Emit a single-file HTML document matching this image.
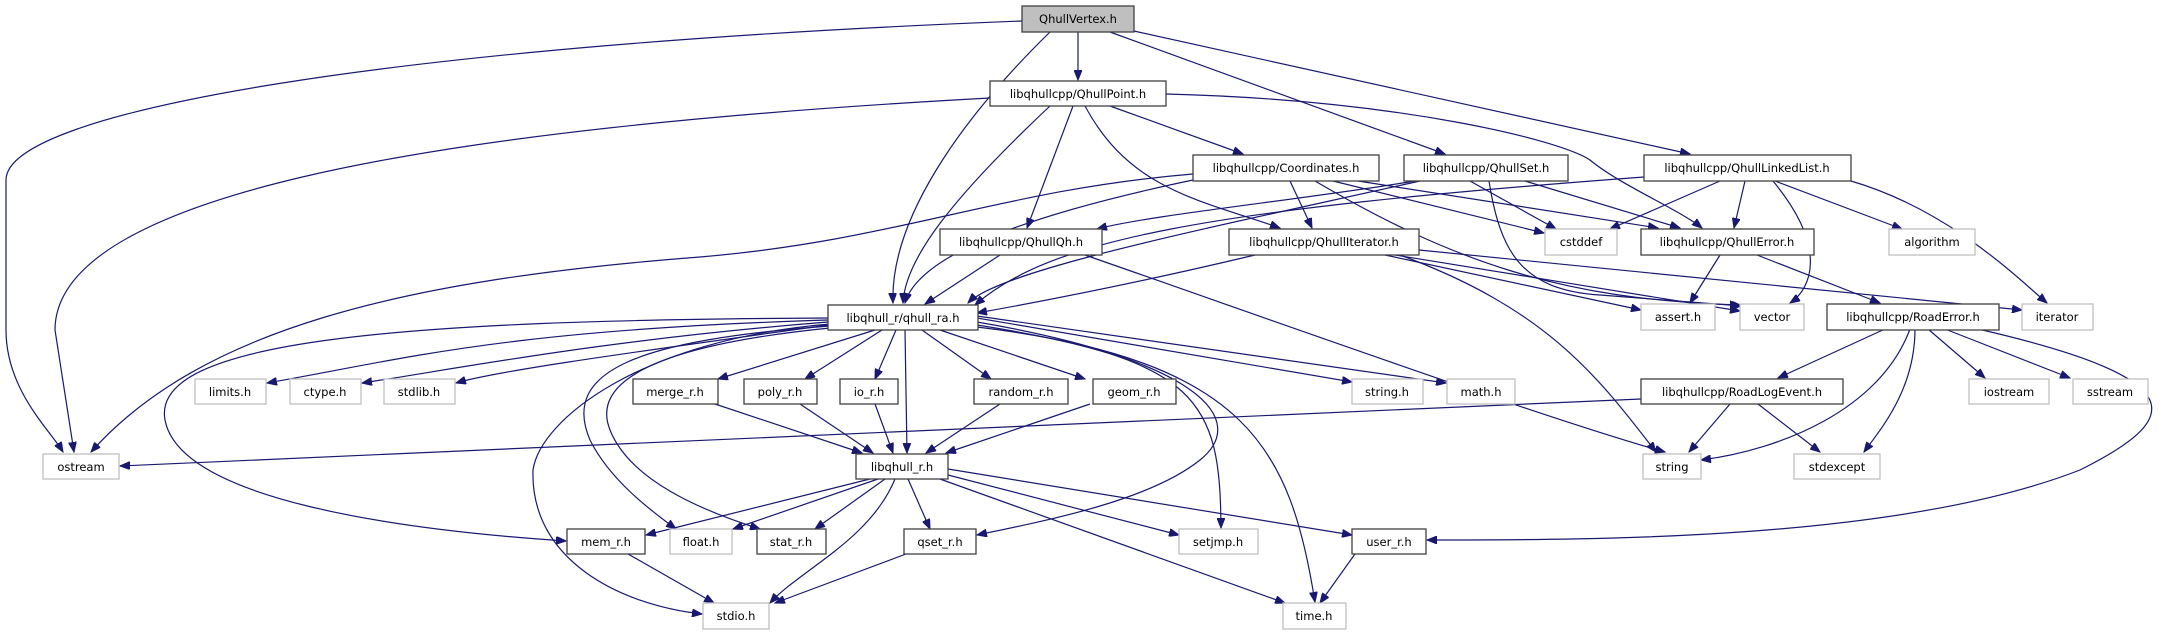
<!DOCTYPE html>
<html><head><meta charset="utf-8"><style>
html,body{margin:0;padding:0;background:#fff;}
svg{display:block;}
text{font-family:"DejaVu Sans","Liberation Sans",sans-serif;font-size:11.5px;fill:#000;text-anchor:middle;}
.n{fill:#fff;stroke:#404040;stroke-width:1.3;}
.g{fill:#fff;stroke:#bfbfbf;stroke-width:1.3;}
.e{fill:none;stroke:#191970;stroke-width:1.2;}
</style></head><body>
<svg width="2171" height="635" viewBox="0 0 2171 635" xmlns="http://www.w3.org/2000/svg">
<defs><marker id="a" markerWidth="11" markerHeight="8" refX="10" refY="4" orient="auto" markerUnits="userSpaceOnUse"><path d="M0,0 L10,4 L0,8 z" fill="#191970" stroke="#191970"/></marker></defs>
<g class="e" marker-end="url(#a)">
<path d="M1022,21 C400,45 6,110 6,180 L6,330 C6,390 50,430 63,452"/>
<path d="M1050,32 C960,120 890,220 893,303"/>
<path d="M1078,32 L1078,80"/>
<path d="M1110,32 L1445,154"/>
<path d="M1134,31 L1690,154"/>
<path d="M990,98 C400,130 55,200 55,330 L74,452"/>
<path d="M1050,106 C950,200 905,260 903,303"/>
<path d="M1073,106 L1027,228"/>
<path d="M1085,106 C1130,190 1200,200 1280,228"/>
<path d="M1110,106 L1243,154"/>
<path d="M1166,94 C1400,100 1560,140 1590,160 C1620,185 1680,210 1702,228"/>
<path d="M1193,174 C1000,190 900,240 700,257 C400,280 200,330 91,452"/>
<path d="M1193,180 C1050,210 920,250 905,303"/>
<path d="M1290,181 L1312,228"/>
<path d="M1333,181 L1544,233"/>
<path d="M1358,181 L1658,228"/>
<path d="M1315,181 C1450,260 1560,300 1740,305"/>
<path d="M1415,181 C1300,200 1150,215 1097,229"/>
<path d="M1420,181 C1200,230 1000,270 968,303"/>
<path d="M1470,181 L1556,229"/>
<path d="M1525,181 L1680,228"/>
<path d="M1489,181 C1500,250 1520,290 1600,295 L1742,306"/>
<path d="M1644,177 C1200,210 1050,240 975,305"/>
<path d="M1720,181 L1610,229"/>
<path d="M1745,181 L1734,228"/>
<path d="M1773,181 C1830,250 1810,290 1790,303"/>
<path d="M1775,181 L1902,229"/>
<path d="M1851,181 C1950,210 2020,280 2047,303"/>
<path d="M1000,255 L925,304"/>
<path d="M1085,255 C1300,330 1550,420 1665,452"/>
<path d="M1255,255 C1150,280 1050,300 977,313"/>
<path d="M1385,255 L1641,310"/>
<path d="M1395,255 L1740,311"/>
<path d="M1419,250 L2022,310"/>
<path d="M1400,255 C1550,310 1600,380 1656,452"/>
<path d="M1720,255 L1690,303"/>
<path d="M1757,255 L1880,303"/>
<path d="M1885,329 L1778,378"/>
<path d="M1910,329 C1880,410 1780,450 1701,460"/>
<path d="M1915,329 C1915,390 1880,430 1864,452"/>
<path d="M1928,329 L1985,378"/>
<path d="M1945,329 L2070,378"/>
<path d="M1978,329 C2200,380 2180,420 2080,470 C1900,540 1600,540 1427,540"/>
<path d="M1641,399 L120,466"/>
<path d="M1730,404 L1689,452"/>
<path d="M1758,404 L1820,452"/>
<path d="M828,320 C500,330 400,360 267,383"/>
<path d="M828,322 C600,340 450,370 362,383"/>
<path d="M828,325 C650,350 500,370 456,383"/>
<path d="M828,318 C400,320 150,340 165,420 C180,500 400,530 566,541"/>
<path d="M830,324 C640,340 540,420 533,470 C530,560 620,605 702,614"/>
<path d="M830,326 C640,340 560,370 590,440 C610,480 650,510 676,529"/>
<path d="M830,328 C660,345 590,380 610,430 C630,480 700,510 760,529"/>
<path d="M875,330 L718,379"/>
<path d="M882,330 L805,379"/>
<path d="M896,330 L875,379"/>
<path d="M905,330 L907,453"/>
<path d="M922,330 L991,379"/>
<path d="M940,330 L1085,379"/>
<path d="M977,318 L1352,382"/>
<path d="M977,316 L1446,383"/>
<path d="M977,322 C1200,360 1250,420 1200,460 C1150,500 1050,520 977,535"/>
<path d="M977,325 C1200,360 1220,400 1221,528"/>
<path d="M977,327 C1250,360 1290,450 1315,602"/>
<path d="M870,479 L646,535"/>
<path d="M878,479 L733,529"/>
<path d="M885,479 L815,529"/>
<path d="M908,479 L930,529"/>
<path d="M895,479 C870,540 800,570 770,603"/>
<path d="M948,475 L1179,535"/>
<path d="M948,469 L1352,535"/>
<path d="M940,479 L1285,603"/>
<path d="M715,404 L862,453"/>
<path d="M800,404 L873,453"/>
<path d="M875,404 L893,453"/>
<path d="M1000,404 L926,453"/>
<path d="M1090,404 L946,453"/>
<path d="M628,554 L714,603"/>
<path d="M906,554 L775,603"/>
<path d="M1355,554 L1320,603"/>
</g>
<rect x="1022" y="6" width="112" height="26" fill="#bfbfbf" stroke="#404040" stroke-width="1.3"/><text x="1078" y="23">QhullVertex.h</text>
<rect class="n" x="990" y="81" width="176" height="25"/><text x="1078" y="98">libqhullcpp/QhullPoint.h</text>
<rect class="n" x="1193" y="155" width="186" height="26"/><text x="1286" y="172">libqhullcpp/Coordinates.h</text>
<rect class="n" x="1404" y="155" width="164" height="26"/><text x="1486" y="172">libqhullcpp/QhullSet.h</text>
<rect class="n" x="1644" y="155" width="207" height="26"/><text x="1747" y="172">libqhullcpp/QhullLinkedList.h</text>
<rect class="n" x="940" y="229" width="162" height="26"/><text x="1021" y="246">libqhullcpp/QhullQh.h</text>
<rect class="n" x="1229" y="229" width="190" height="26"/><text x="1324" y="246">libqhullcpp/QhullIterator.h</text>
<rect class="g" x="1545" y="229" width="72" height="26"/><text x="1581" y="246">cstddef</text>
<rect class="n" x="1641" y="229" width="173" height="26"/><text x="1727" y="246">libqhullcpp/QhullError.h</text>
<rect class="g" x="1889" y="229" width="86" height="26"/><text x="1932" y="246">algorithm</text>
<rect class="n" x="828" y="305" width="150" height="25"/><text x="903" y="322">libqhull_r/qhull_ra.h</text>
<rect class="g" x="1641" y="304" width="74" height="26"/><text x="1678" y="321">assert.h</text>
<rect class="g" x="1740" y="304" width="64" height="26"/><text x="1772" y="321">vector</text>
<rect class="n" x="1827" y="304" width="172" height="26"/><text x="1913" y="321">libqhullcpp/RoadError.h</text>
<rect class="g" x="2022" y="304" width="71" height="26"/><text x="2057" y="321">iterator</text>
<rect class="g" x="195" y="379" width="71" height="25"/><text x="230" y="396">limits.h</text>
<rect class="g" x="290" y="379" width="71" height="25"/><text x="325" y="396">ctype.h</text>
<rect class="g" x="384" y="379" width="71" height="25"/><text x="419" y="396">stdlib.h</text>
<rect class="n" x="633" y="379" width="85" height="25"/><text x="675" y="396">merge_r.h</text>
<rect class="n" x="744" y="379" width="73" height="25"/><text x="780" y="396">poly_r.h</text>
<rect class="n" x="840" y="379" width="58" height="25"/><text x="869" y="396">io_r.h</text>
<rect class="n" x="974" y="379" width="94" height="25"/><text x="1021" y="396">random_r.h</text>
<rect class="n" x="1093" y="379" width="83" height="25"/><text x="1134" y="396">geom_r.h</text>
<rect class="g" x="1352" y="379" width="71" height="25"/><text x="1387" y="396">string.h</text>
<rect class="g" x="1447" y="379" width="68" height="25"/><text x="1481" y="396">math.h</text>
<rect class="n" x="1641" y="379" width="202" height="25"/><text x="1742" y="396">libqhullcpp/RoadLogEvent.h</text>
<rect class="g" x="1969" y="379" width="80" height="25"/><text x="2009" y="396">iostream</text>
<rect class="g" x="2073" y="379" width="75" height="25"/><text x="2110" y="396">sstream</text>
<rect class="g" x="43" y="454" width="76" height="25"/><text x="81" y="471">ostream</text>
<rect class="n" x="856" y="454" width="92" height="25"/><text x="902" y="471">libqhull_r.h</text>
<rect class="g" x="1643" y="454" width="58" height="25"/><text x="1672" y="471">string</text>
<rect class="g" x="1794" y="454" width="86" height="25"/><text x="1837" y="471">stdexcept</text>
<rect class="n" x="567" y="529" width="78" height="25"/><text x="606" y="546">mem_r.h</text>
<rect class="g" x="670" y="529" width="62" height="25"/><text x="701" y="546">float.h</text>
<rect class="n" x="757" y="529" width="69" height="25"/><text x="791" y="546">stat_r.h</text>
<rect class="n" x="904" y="529" width="72" height="25"/><text x="940" y="546">qset_r.h</text>
<rect class="g" x="1179" y="529" width="79" height="25"/><text x="1218" y="546">setjmp.h</text>
<rect class="n" x="1352" y="529" width="74" height="25"/><text x="1389" y="546">user_r.h</text>
<rect class="g" x="703" y="603" width="66" height="26"/><text x="736" y="620">stdio.h</text>
<rect class="g" x="1283" y="603" width="63" height="26"/><text x="1314" y="620">time.h</text>
</svg>
</body></html>
